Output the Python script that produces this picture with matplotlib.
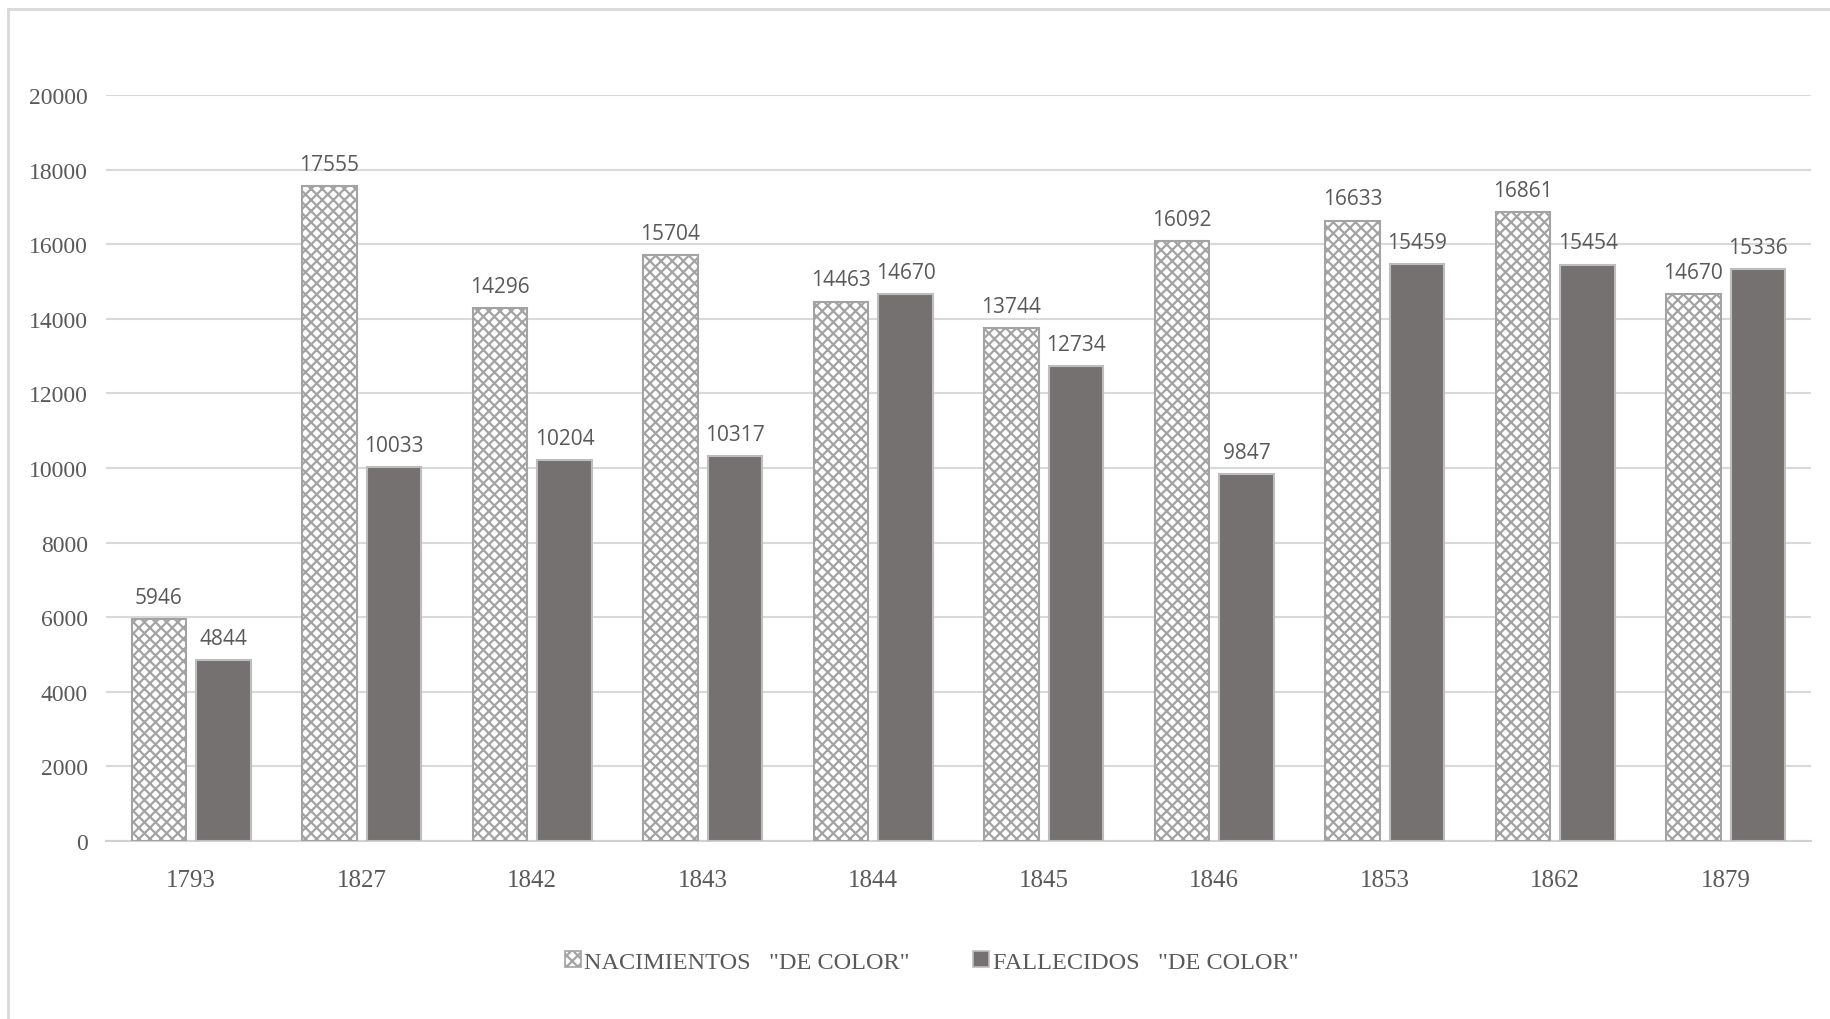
import matplotlib
matplotlib.use("Agg")
import matplotlib.pyplot as plt
from matplotlib.lines import Line2D
import numpy as np

years = ["1793", "1827", "1842", "1843", "1844", "1845", "1846", "1853", "1862", "1879"]
nacimientos = [5946, 17555, 14296, 15704, 14463, 13744, 16092, 16633, 16861, 14670]
fallecidos = [4844, 10033, 10204, 10317, 14670, 12734, 9847, 15459, 15454, 15336]
yticks = [0, 2000, 4000, 6000, 8000, 10000, 12000, 14000, 16000, 18000, 20000]
series_names = ['NACIMIENTOS   "DE COLOR"', 'FALLECIDOS   "DE COLOR"']

W, H, DPI = 1830, 1020, 100
plt.rcParams["hatch.linewidth"] = 1.6

fig = plt.figure(figsize=(W / DPI, H / DPI), dpi=DPI)
ax = fig.add_axes([106 / W, 1 - 842 / H, (1811 - 106) / W, (842 - 96) / H])

x = np.arange(len(years))
bw = 0.32
off = 0.19

serif = ["Liberation Serif", "DejaVu Serif"]
label_font = ["Open Sans", "DejaVu Sans"]
txt_col = "#595959"

b1 = ax.bar(x - off, nacimientos, bw, color="white", edgecolor="#a3a3a3",
            hatch="xxx", linewidth=1.5, zorder=3)
b2 = ax.bar(x + off, fallecidos, bw, color="#767171", edgecolor="#bdbdbd",
            linewidth=1.5, zorder=3)

for bars, vals in ((b1, nacimientos), (b2, fallecidos)):
    for rect, v in zip(bars, vals):
        ax.annotate(str(v), (rect.get_x() + rect.get_width() / 2, v),
                    xytext=(0, 8), textcoords="offset points",
                    ha="center", va="bottom", fontsize=15,
                    family=label_font, color=txt_col, clip_on=False)

ax.set_xlim(-0.5, len(years) - 0.5)
ax.set_ylim(0, 20000)
ax.set_yticks(yticks)
ax.set_yticklabels([str(t) for t in yticks], family=serif, fontsize=17, color=txt_col)
ax.set_xticks(x)
ax.set_xticklabels(years, family=serif, fontsize=18, color=txt_col)
ax.tick_params(axis="y", length=0, pad=13)
ax.tick_params(axis="x", length=0, pad=20)

ax.grid(axis="y", color="#d9d9d9", linewidth=1.5, zorder=0)
ax.set_axisbelow(True)
for s in ("top", "right", "left"):
    ax.spines[s].set_visible(False)
ax.spines["bottom"].set_color("#d0d0d0")
ax.spines["bottom"].set_linewidth(1.5)

# legend
handles = [
    plt.Rectangle((0, 0), 1, 1, facecolor="white", edgecolor="#a3a3a3", hatch="xxx", linewidth=1.2),
    plt.Rectangle((0, 0), 1, 1, facecolor="#767171", edgecolor="#bdbdbd", linewidth=1.2),
]
leg = fig.legend(handles, series_names, loc="center", bbox_to_anchor=(0.509, 1 - 963 / H),
                 ncol=2, frameon=False, handlelength=0.65, handleheight=0.65,
                 handletextpad=0.15, columnspacing=2.6,
                 prop={"family": serif, "size": 17.5})
for t in leg.get_texts():
    t.set_color(txt_col)

# outer chart frame
fig.add_artist(Line2D([8 / W, 1.0], [1 - 10 / H, 1 - 10 / H], color="#d9d9d9", linewidth=2,
                      transform=fig.transFigure))
fig.add_artist(Line2D([8 / W, 8 / W], [1 - 10 / H, 0.0], color="#d9d9d9", linewidth=2,
                      transform=fig.transFigure))

fig.savefig("out.png", dpi=DPI)
